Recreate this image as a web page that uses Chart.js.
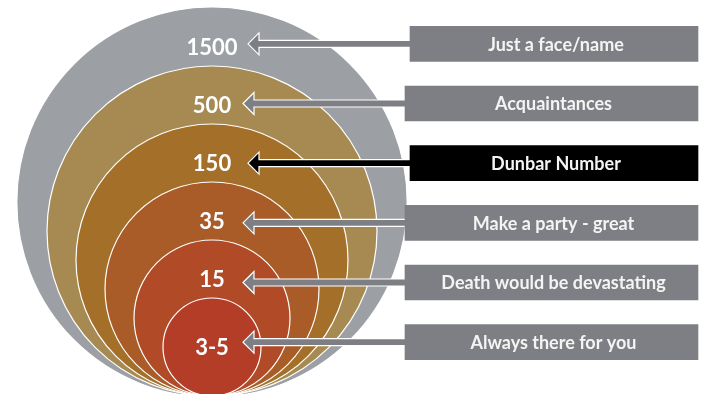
<!DOCTYPE html>
<html>
<head>
<meta charset="utf-8">
<script src="https://cdn.jsdelivr.net/npm/chart.js@4.4.1/dist/chart.umd.min.js"></script>
<style>
  html, body { margin: 0; padding: 0; background: #fff; }
  #wrap { width: 707px; height: 394px; }
</style>
</head>
<body>
<div id="wrap"><canvas id="dunbar" width="707" height="394"></canvas></div>
<script>
// Dunbar layers, outermost first
const groupSizes = ['1500', '500', '150', '35', '15', '3-5'];
const descriptions = [
  'Just a face/name',
  'Acquaintances',
  'Dunbar Number',
  'Make a party - great',
  'Death would be devastating',
  'Always there for you'
];
const highlighted = 'Dunbar Number';

// layout (pixels)
const W = 707, H = 394;
const PAD_TOP = 14, PAD_BOTTOM = 22;
const RING_CX = 212, RING_BOTTOM = 396, RING_MAX = 194, RING_STEP = 29;
const BOX_LEFT = 405, BOX_RIGHT = 698;
const rowShift = [5, 0, 5, 0, 0, 0];   // boxes/arrows 1 and 3 sit a bit further right
const ARROW_GAP = 162;                  // box left edge -> arrow tip

const ringColors = ['#9c9fa4', '#a68a52', '#a47029', '#a95b28', '#b04a27', '#b43d27'];
const boxGray = '#7e7f84';

function ringRadius(i) { return RING_MAX - RING_STEP * i; }

const ringPoints = groupSizes.map((g, i) => ({ x: RING_CX, y: RING_BOTTOM - ringRadius(i) }));
const boxColors = descriptions.map(d => d === highlighted ? '#000000' : boxGray);

// arrows are painted right after the circles, so the boxes cover their tails
const arrowPlugin = {
  id: 'arrows',
  afterDatasetDraw(chart, args) {
    if (args.index !== 0) return;
    const ctx = chart.ctx;
    const bars = chart.getDatasetMeta(1).data;
    ctx.save();
    bars.forEach((bar, i) => {
      const left = Math.min(bar.x, bar.base);
      const y = bar.y;
      const tip = left - ARROW_GAP;
      const hl = 11, hh = 11, sh = 3.5;
      ctx.beginPath();
      ctx.moveTo(tip, y);
      ctx.lineTo(tip + hl, y - hh);
      ctx.lineTo(tip + hl, y - sh);
      ctx.lineTo(left + 4, y - sh);
      ctx.lineTo(left + 4, y + sh);
      ctx.lineTo(tip + hl, y + sh);
      ctx.lineTo(tip + hl, y + hh);
      ctx.closePath();
      ctx.fillStyle = boxColors[i];
      ctx.fill();
      ctx.strokeStyle = '#ffffff';
      ctx.lineWidth = 1.2;
      ctx.lineJoin = 'miter';
      ctx.stroke();
    });
    ctx.restore();
  },
  afterDatasetsDraw(chart) {
    const ctx = chart.ctx;
    ctx.save();
    ctx.textAlign = 'center';
    ctx.textBaseline = 'middle';
    ctx.fillStyle = '#ffffff';

    // numbers inside the rings
    ctx.font = 'bold 22px Lato';
    const rings = chart.getDatasetMeta(0).data;
    rings.forEach((el, i) => {
      const r = el.options.radius;
      const y = i === rings.length - 1 ? el.y + 1 : el.y - r + 40;
      ctx.fillText(groupSizes[i], el.x, y);
    });

    // box captions
    ctx.font = 'bold 18px Lato';
    ctx.fillStyle = '#f4f4f4';
    chart.getDatasetMeta(1).data.forEach((bar, i) => {
      ctx.fillText(descriptions[i], (bar.x + bar.base) / 2 + 2, bar.y + 1);
    });
    ctx.restore();
  }
};

new Chart(document.getElementById('dunbar'), {
  type: 'bar',
  data: {
    labels: descriptions,
    datasets: [
      {
        type: 'bubble',
        data: ringPoints,
        xAxisID: 'x',
        yAxisID: 'yc',
        radius: ctx => ringRadius(ctx.dataIndex),
        backgroundColor: ringColors,
        borderColor: ringColors.map((c, i) => i === 0 ? c : '#ffffff'),
        borderWidth: 1.2,
        clip: false,
        order: 2
      },
      {
        type: 'bar',
        indexAxis: 'y',
        data: descriptions.map((d, i) => [BOX_LEFT + rowShift[i], BOX_RIGHT]),
        xAxisID: 'x',
        yAxisID: 'y',
        backgroundColor: boxColors,
        borderWidth: 0,
        barThickness: 35,
        order: 1
      }
    ]
  },
  options: {
    responsive: false,
    animation: false,
    events: [],
    layout: { autoPadding: false, padding: { top: PAD_TOP, bottom: PAD_BOTTOM, left: 0, right: 0 } },
    plugins: { legend: { display: false }, tooltip: { enabled: false } },
    scales: {
      x: { type: 'linear', min: 0, max: W, offset: false, display: false },
      y: { type: 'category', display: false, offset: true },
      yc: { type: 'linear', min: PAD_TOP, max: H - PAD_BOTTOM, reverse: true, offset: false, display: false }
    }
  },
  plugins: [arrowPlugin]
});
</script>
</body>
</html>
